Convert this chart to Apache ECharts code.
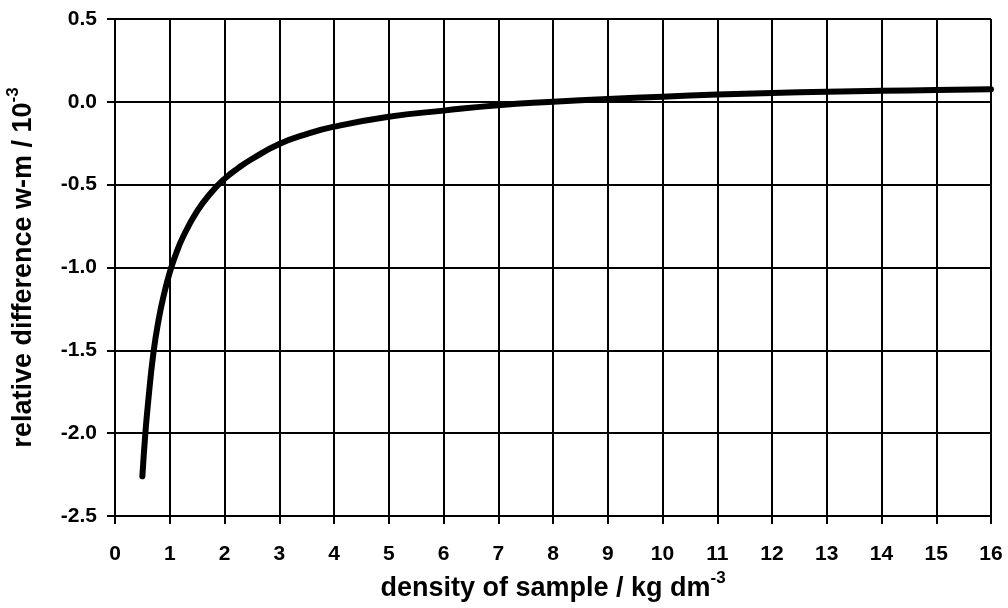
<!DOCTYPE html>
<html>
<head>
<meta charset="utf-8">
<script src="https://cdn.jsdelivr.net/npm/echarts@6/dist/echarts.min.js"></script>
<style>html,body{margin:0;padding:0;background:#fff}#c{width:1008px;height:608px}</style>
</head>
<body>
<div id="c"></div>
<script>
const density = [0.5, 0.55, 0.6, 0.7, 0.8, 0.9, 1.0, 1.1, 1.25, 1.5, 1.75, 2, 2.25, 2.5, 3, 3.5, 4, 5, 6, 7, 8, 9, 10, 11, 12, 13, 14, 15, 16];
const relDiff = [-2.26, -2.02, -1.83, -1.52, -1.31, -1.155, -1.03, -0.93, -0.81, -0.66, -0.55, -0.465, -0.40, -0.345, -0.255, -0.195, -0.15, -0.09, -0.053, -0.02, 0.0, 0.017, 0.031, 0.044, 0.053, 0.061, 0.067, 0.071, 0.076];
const xTicks = [0,1,2,3,4,5,6,7,8,9,10,11,12,13,14,15,16];
const yTicks = [-2.5,-2.0,-1.5,-1.0,-0.5,0.0,0.5];

const F = 'Liberation Sans, Arial, Helvetica, sans-serif';
const chart = echarts.init(document.getElementById('c'));
chart.setOption({
  animation: false,
  backgroundColor: '#fff',
  grid: {left: 115, right: 17, top: 19, bottom: 92, containLabel: false, outerBoundsMode: 'none'},
  xAxis: {
    type: 'value', min: xTicks[0], max: xTicks[xTicks.length-1], interval: 1,
    axisLine: {show: true, onZero: false, lineStyle: {color: '#000', width: 2}},
    axisTick: {show: true, length: 8, lineStyle: {color: '#000', width: 2}},
    splitLine: {show: true, lineStyle: {color: '#000', width: 2}},
    axisLabel: {color: '#000', fontFamily: F, fontWeight: 'bold', fontSize: 21, margin: 28},
    name: '{m|density of sample / kg dm}{s|-3}',
    nameLocation: 'middle', nameGap: 53,
    nameTextStyle: {
      rich: {
        m: {fontFamily: F, fontWeight: 'bold', fontSize: 27, color: '#000', verticalAlign: 'bottom', lineHeight: 32},
        s: {fontFamily: F, fontWeight: 'bold', fontSize: 17, color: '#000', verticalAlign: 'top', lineHeight: 32, padding: [0,0,12,0]}
      }
    }
  },
  yAxis: {
    type: 'value', min: yTicks[0], max: yTicks[yTicks.length-1], interval: 0.5,
    axisLine: {show: true, lineStyle: {color: '#000', width: 2}},
    axisTick: {show: true, length: 8, lineStyle: {color: '#000', width: 2}},
    splitLine: {show: true, lineStyle: {color: '#000', width: 2}},
    axisLabel: {color: '#000', fontFamily: F, fontWeight: 'bold', fontSize: 21, margin: 18, formatter: v => v.toFixed(1)},
    name: '{m|relative difference w-m / 10}{s|-3}',
    nameLocation: 'middle', nameGap: 78, nameRotate: 90,
    nameTextStyle: {
      rich: {
        m: {fontFamily: F, fontWeight: 'bold', fontSize: 27, color: '#000', verticalAlign: 'bottom', lineHeight: 32},
        s: {fontFamily: F, fontWeight: 'bold', fontSize: 17, color: '#000', verticalAlign: 'top', lineHeight: 32, padding: [0,0,12,0]}
      }
    }
  },
  series: [{
    type: 'line', smooth: 0.5, showSymbol: false,
    data: density.map((d, i) => [d, relDiff[i]]),
    lineStyle: {color: '#000', width: 6, cap: 'round', join: 'round'}
  }]
});
</script>
</body>
</html>
